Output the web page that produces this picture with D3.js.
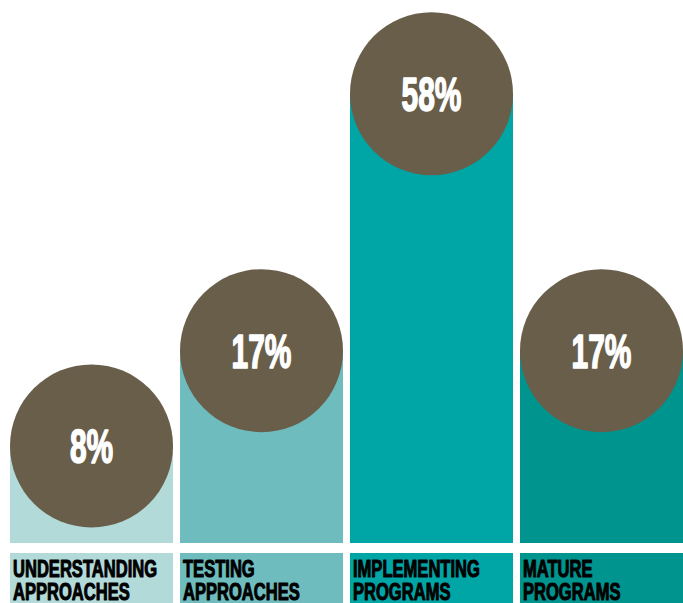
<!DOCTYPE html>
<html>
<head>
<meta charset="utf-8">
<script src="https://cdn.jsdelivr.net/npm/d3@7"></script>
<style>
  html, body { margin: 0; padding: 0; background: #ffffff; }
  svg { display: block; }
</style>
</head>
<body>
<div id="chart"></div>
<script>
// Stage of adoption: share of respondents in each stage
const categories = ["UNDERSTANDING APPROACHES", "TESTING APPROACHES", "IMPLEMENTING PROGRAMS", "MATURE PROGRAMS"];
const labelLines = [["UNDERSTANDING", "APPROACHES"], ["TESTING", "APPROACHES"], ["IMPLEMENTING", "PROGRAMS"], ["MATURE", "PROGRAMS"]];
const values = [8, 17, 58, 17];
const barColors = ["#b2dad9", "#6fbcbe", "#00a6a6", "#00948e"];

const W = 683, H = 603;
const baseY = 543;       // bottom of bars
const labelTop = 553;    // top of the label strips
const circleColor = "#685e4a";
const face = "'Liberation Sans', Arial, sans-serif";

const svg = d3.select("#chart").append("svg")
  .attr("width", W).attr("height", H);

const x = d3.scaleBand()
  .domain(categories)
  .range([10, 683])
  .paddingInner(0.041)
  .paddingOuter(0);

// square-root scale places the bubble centre for each share
const y = d3.scaleSqrt()
  .domain([0, 58])
  .range([654, 93.7]);

const data = categories.map((c, i) => ({ c, v: values[i], color: barColors[i], lines: labelLines[i] }));
const r = x.bandwidth() / 2;

const g = svg.selectAll("g.stage").data(data).enter().append("g").attr("class", "stage");

// bars rise from the baseline to the bubble centre
g.append("rect")
  .attr("x", d => x(d.c))
  .attr("y", d => y(d.v))
  .attr("width", x.bandwidth())
  .attr("height", d => baseY - y(d.v))
  .attr("fill", d => d.color);

// label strip
g.append("rect")
  .attr("x", d => x(d.c))
  .attr("y", labelTop)
  .attr("width", x.bandwidth())
  .attr("height", H - labelTop + 5)
  .attr("fill", d => d.color);

// bubble
g.append("circle")
  .attr("cx", d => x(d.c) + r)
  .attr("cy", d => y(d.v))
  .attr("r", r)
  .attr("fill", circleColor);

// percentage, condensed heavy face
g.append("text")
  .attr("transform", d => `translate(${x(d.c) + r},${y(d.v) + 17}) scale(0.63,1)`)
  .attr("text-anchor", "middle")
  .attr("font-family", face)
  .attr("font-weight", "bold")
  .attr("font-size", 47.5)
  .attr("fill", "#ffffff")
  .attr("stroke", "#ffffff")
  .attr("stroke-width", 1.6)
  .attr("stroke-linejoin", "round")
  .text(d => d.v + "%");

// stage name, two lines
g.each(function(d) {
  const sel = d3.select(this);
  d.lines.forEach((ln, j) => {
    sel.append("text")
      .attr("transform", `translate(${x(d.c) + 3},${577.3 + j * 22.7}) scale(0.69,1)`)
      .attr("font-family", face)
      .attr("font-weight", "bold")
      .attr("font-size", 24)
      .attr("fill", "#000000")
      .attr("stroke", "#000000")
      .attr("stroke-width", 1.1)
      .attr("stroke-linejoin", "round")
      .text(ln);
  });
});
</script>
</body>
</html>
